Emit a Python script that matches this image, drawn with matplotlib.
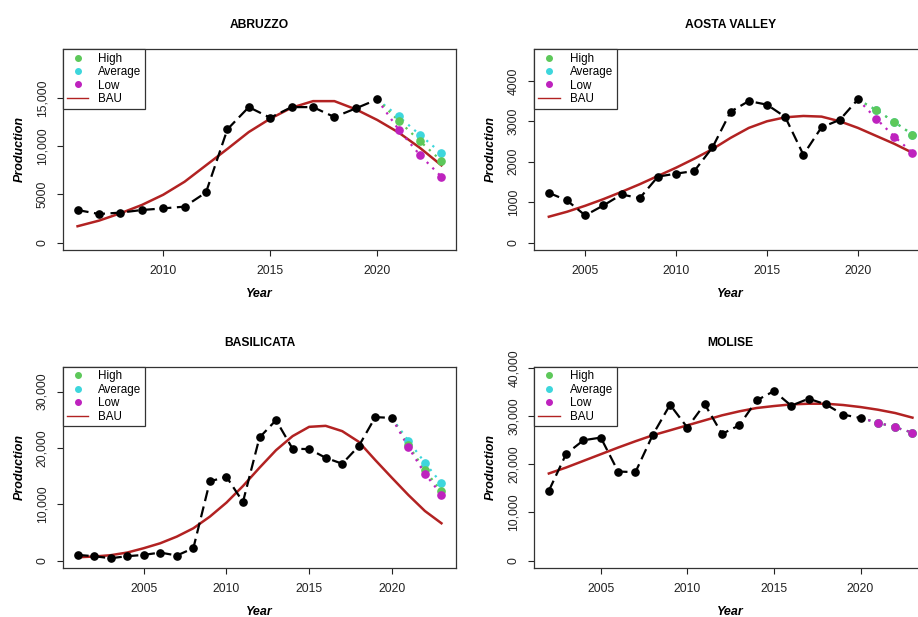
import matplotlib
matplotlib.use("Agg")
import matplotlib.pyplot as plt
from matplotlib.lines import Line2D

plt.rcParams['font.family'] = ['Liberation Sans', 'DejaVu Sans']

# ---------- data ----------
abruzzo_years = list(range(2006, 2021))
abruzzo_prod = [3370, 2960, 3100, 3370, 3540, 3720, 5190, 11730, 14030, 12930,
                14030, 14030, 13000, 13900, 14830]
abruzzo_bau_years = list(range(2006, 2024))
abruzzo_bau = [1690, 2270, 3030, 3890, 4950, 6300, 8000, 9700, 11450, 12830,
               13970, 14650, 14650, 13800, 12700, 11400, 9800, 8000]
abruzzo_high = [12620, 10490, 8460]
abruzzo_avg = [13070, 11150, 9250]
abruzzo_low = [11700, 9050, 6810]

aosta_years = list(range(2003, 2021))
aosta_prod = [1230, 1041, 672, 918, 1189, 1098, 1631, 1705, 1770, 2352,
              3238, 3500, 3410, 3107, 2172, 2852, 3033, 3541]
aosta_bau_years = list(range(2003, 2024))
aosta_bau = [639, 762, 910, 1074, 1254, 1443, 1648, 1852, 2074, 2311, 2590,
             2836, 3000, 3098, 3131, 3115, 3000, 2836, 2639, 2443, 2221]
aosta_high = [3279, 2984, 2672]
aosta_avg = [3279, 2984, 2672]
aosta_low = [3066, 2623, 2221]

basilicata_years = list(range(2001, 2021))
basilicata_prod = [1000, 770, 410, 770, 1000, 1420, 890, 2190, 14060, 14880,
                   10400, 21850, 24930, 19850, 19790, 18250, 17190, 20320,
                   25460, 25340]
basilicata_bau_years = list(range(2001, 2024))
basilicata_bau = [590, 710, 950, 1420, 2190, 3070, 4250, 5730, 7800, 10280,
                  13230, 16480, 19600, 22090, 23740, 23920, 22980, 21090,
                  17840, 14710, 11640, 8800, 6620]
basilicata_high = [20500, 16000, 12290]
basilicata_avg = [21260, 17370, 13700]
basilicata_low = [20140, 15420, 11700]

molise_years = list(range(2002, 2021))
molise_prod = [14480, 22140, 24970, 25520, 18480, 18340, 26070, 32340, 27590,
               32480, 26280, 28070, 33240, 35170, 32140, 33590, 32410, 30280,
               29590]
molise_bau_years = list(range(2002, 2024))
molise_bau = [18070, 19310, 20690, 22070, 23450, 24760, 26000, 27030, 28070,
              29100, 30140, 30970, 31660, 32070, 32410, 32550, 32550, 32280,
              31860, 31310, 30620, 29660]
molise_high = [28620, 27660, 26550]
molise_avg = [28620, 27660, 26550]
molise_low = [28620, 27660, 26550]

scenario_years = [2021, 2022, 2023]

regions = ["ABRUZZO", "AOSTA VALLEY", "BASILICATA", "MOLISE"]
y_ticks = [
    [0, 5000, 10000, 15000],
    [0, 1000, 2000, 3000, 4000],
    [0, 10000, 20000, 30000],
    [0, 10000, 20000, 30000, 40000],
]
y_tick_labels = [
    ["0", "5000", "10,000", "15,000"],
    ["0", "1000", "2000", "3000", "4000"],
    ["0", "10,000", "20,000", "30,000"],
    ["0", "10,000", "20,000", "30,000", "40,000"],
]
x_ticks = [
    [2010, 2015, 2020],
    [2005, 2010, 2015, 2020],
    [2005, 2010, 2015, 2020],
    [2005, 2010, 2015, 2020],
]
y_scale = [1.3, 1.3, 1.3, 1.1]

series = [
    (abruzzo_years, abruzzo_prod, abruzzo_bau_years, abruzzo_bau, abruzzo_high, abruzzo_avg, abruzzo_low),
    (aosta_years, aosta_prod, aosta_bau_years, aosta_bau, aosta_high, aosta_avg, aosta_low),
    (basilicata_years, basilicata_prod, basilicata_bau_years, basilicata_bau, basilicata_high, basilicata_avg, basilicata_low),
    (molise_years, molise_prod, molise_bau_years, molise_bau, molise_high, molise_avg, molise_low),
]

GREEN = '#5DC85A'
CYAN = '#3DD6DC'
MAGENTA = '#BE22BE'
RED = '#B22222'

W, H = 918, 617
fig = plt.figure(figsize=(W / 100, H / 100), dpi=100)

# panel boxes in pixels: left, right, top, bottom
# (right column runs past the canvas edge, so it gets cut off)
boxes = [
    (63, 456, 49, 250),
    (534.3, 927, 49, 250),
    (63, 456, 366.7, 568),
    (534.3, 927, 366.7, 568),
]


def r_range(lo, hi):
    # R-style 4% padding on both sides
    pad = 0.04 * (hi - lo)
    return lo - pad, hi + pad


for i, (name, s) in enumerate(zip(regions, series)):
    yrs, prod, bau_yrs, bau, high, avg, low = s
    l, r, t, b = boxes[i]
    ax = fig.add_axes([l / W, 1 - b / H, (r - l) / W, (b - t) / H])

    ax.plot(bau_yrs, bau, color=RED, lw=1.8, zorder=2)

    # scenario projections start from the last observed year
    for vals, col in [(avg, CYAN), (high, GREEN), (low, MAGENTA)]:
        xs = [yrs[-1]] + scenario_years
        ys = [prod[-1]] + vals
        ax.plot(xs, ys, color=col, lw=1.6, linestyle=(0, (1, 2.6)), zorder=2.5)
        ax.plot(scenario_years, vals, 'o', color=col, markersize=5.2, zorder=5)

    ax.plot(yrs, prod, color='black', lw=1.6, linestyle=(0, (5, 2.5)),
            marker='o', markersize=5.2, zorder=3)

    ax.set_xlim(*r_range(min(bau_yrs), max(bau_yrs)))
    ax.set_ylim(*r_range(0, y_scale[i] * max(prod)))
    ax.set_xticks(x_ticks[i])
    ax.set_yticks(y_ticks[i])
    ax.set_yticklabels(y_tick_labels[i], rotation=90, va='center')
    ax.tick_params(direction='out', length=4, width=0.8, pad=6.5,
                   labelsize=8.7, colors='#222222')
    for sp in ax.spines.values():
        sp.set_linewidth(0.9)
        sp.set_color('#333333')

    ax.set_title(name, fontsize=8.7, fontweight='bold', pad=15)
    ax.set_xlabel('Year', fontsize=9, fontweight='bold', style='italic')
    ax.set_ylabel('Production', fontsize=9, fontweight='bold', style='italic')
    ax.xaxis.set_label_coords(0.5, -38 / (b - t))
    ax.yaxis.set_label_coords(-37.5 / (r - l), 0.5)

    handles = [
        Line2D([], [], marker='o', linestyle='none', color=GREEN, markersize=4),
        Line2D([], [], marker='o', linestyle='none', color=CYAN, markersize=4),
        Line2D([], [], marker='o', linestyle='none', color=MAGENTA, markersize=4),
        Line2D([], [], color=RED, lw=1.0),
    ]
    leg = ax.legend(handles, ['High', 'Average', 'Low', 'BAU'], loc='upper left',
                    borderaxespad=0, fancybox=False, framealpha=1,
                    edgecolor='#333333', fontsize=8.4, handlelength=1.85,
                    handletextpad=0.85, labelspacing=0.12, borderpad=0.32)
    leg.get_frame().set_linewidth(0.9)

fig.savefig('out.png', dpi=100)
